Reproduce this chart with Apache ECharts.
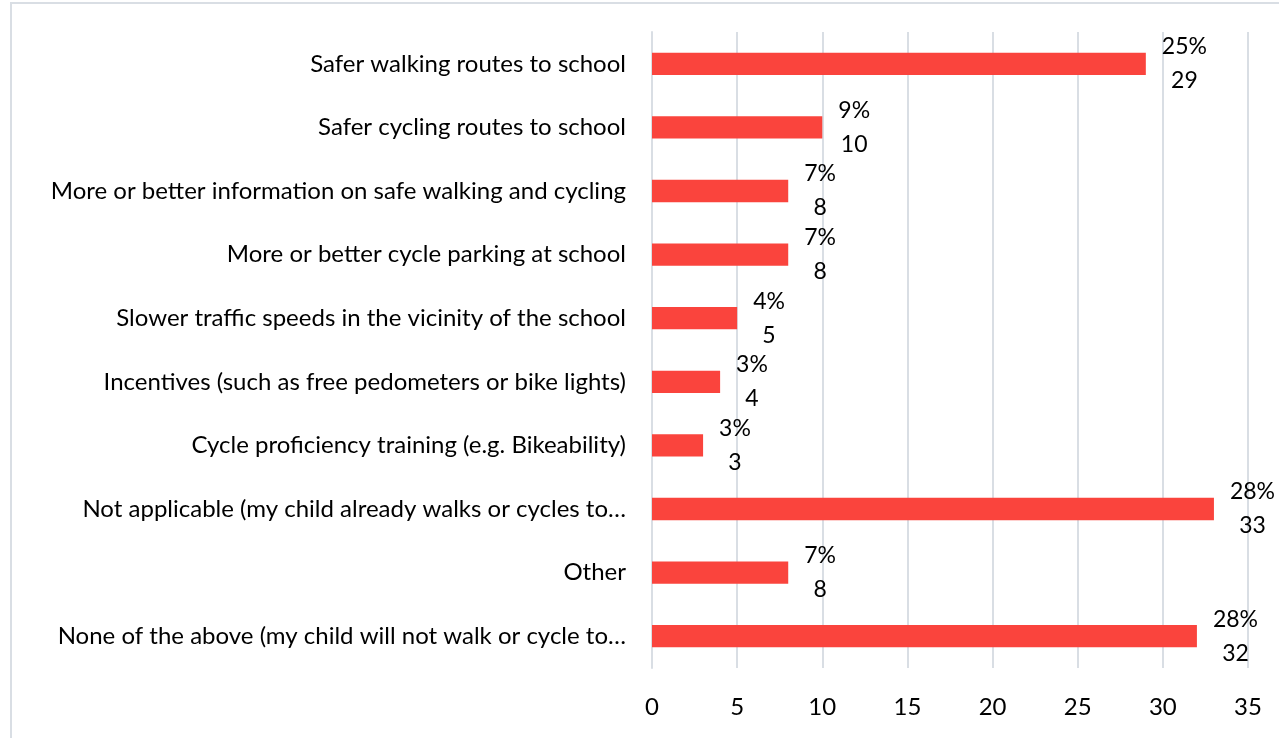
<!DOCTYPE html>
<html>
<head>
<meta charset="utf-8">
<script src="https://cdn.jsdelivr.net/npm/echarts@6/dist/echarts.min.js"></script>
<style>
  html, body { margin: 0; padding: 0; background: #fff; }
  #chart { width: 1279px; height: 738px; }
</style>
</head>
<body>
<div id="chart"></div>
<script>
// categories, top to bottom as shown
var categories = [
  'Safer walking routes to school',
  'Safer cycling routes to school',
  'More or better information on safe walking and cycling',
  'More or better cycle parking at school',
  'Slower traffic speeds in the vicinity of the school',
  'Incentives (such as free pedometers or bike lights)',
  'Cycle proficiency training (e.g. Bikeability)',
  'Not applicable (my child already walks or cycles to…',
  'Other',
  'None of the above (my child will not walk or cycle to…'
]
var counts = [29, 10, 8, 8, 5, 4, 3, 33, 8, 32]
var percents = ['25%', '9%', '7%', '7%', '4%', '3%', '3%', '28%', '7%', '28%']
var xTicks = [0, 5, 10, 15, 20, 25, 30, 35]

var font = 'Lato'
var myChart = echarts.init(document.getElementById('chart'))

var seriesData = counts.map(function (v, i) {
  return { value: v, pct: percents[i] }
})

myChart.setOption({
  animation: false,
  textStyle: { fontFamily: font },
  graphic: [{
    type: 'rect',
    shape: { x: 11, y: 3, width: 1300, height: 800 },
    style: { fill: 'none', stroke: '#D9DEE4', lineWidth: 2 },
    silent: true
  }],
  grid: {
    left: 652,
    right: 31,
    top: 32,
    bottom: 70
  },
  xAxis: {
    type: 'value',
    min: xTicks[0],
    max: xTicks[xTicks.length - 1],
    interval: 5,
    axisLine: { show: false },
    axisTick: { show: false },
    splitLine: { lineStyle: { color: '#D9DEE4', width: 2 } },
    axisLabel: {
      margin: 27,
      fontSize: 24,
      color: '#000',
      fontFamily: font
    }
  },
  yAxis: {
    type: 'category',
    inverse: true,
    data: categories,
    axisLine: { lineStyle: { color: '#D9DEE4', width: 2 } },
    axisTick: { show: false },
    axisLabel: {
      margin: 26,
      fontSize: 24,
      color: '#000',
      fontFamily: font
    }
  },
  series: [{
    type: 'bar',
    data: seriesData,
    barWidth: '35%',
    itemStyle: { color: '#FA443D' },
    label: {
      show: true,
      position: 'right',
      distance: 16,
      formatter: function (p) {
        return '{a|' + p.data.pct + '}\n{a|' + p.value + '}'
      },
      rich: {
        a: {
          align: 'center',
          fontSize: 23,
          lineHeight: 34,
          color: '#000',
          fontFamily: font
        }
      }
    }
  }]
})
</script>
</body>
</html>
